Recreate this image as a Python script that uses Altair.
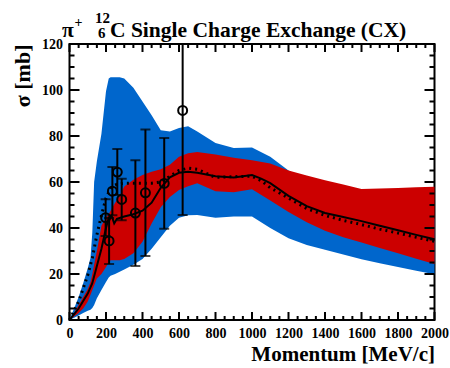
import altair as alt
import pandas as pd

# ---------------- data ----------------
band_p = [0, 25, 50, 75, 100, 115, 125, 135, 150, 175, 200, 215, 225, 250, 275,
          300, 350, 400, 450, 500, 550, 600, 650, 700, 800, 900, 1000, 1100, 1200,
          1300, 1400, 1500, 1600, 1700, 1800, 1900, 2000]
blue_hi = [0, 5, 10, 16, 22.5, 27, 38, 60, 69, 81, 99.5, 105, 105.5, 105.5, 105.5,
           105, 101, 95, 89, 82.5, 82, 83.5, 84.2, 82, 77, 74.8, 75, 71, 65,
           61, 58.5, 56, 54, 51.5, 49, 46.5, 44]
blue_lo = [0, 1, 2, 3, 4, 4.5, 5.2, 6.5, 9.5, 13, 16.5, 18.5, 19.2, 20, 21,
           22, 24, 26.5, 31, 36, 41, 44.5, 45.5, 45.7, 44.5, 45, 45, 40, 35.5,
           32.6, 30.5, 28.5, 26.4, 24.7, 23, 21.4, 19.9]
red_hi = [0, 3, 6.5, 10, 13.5, 16.5, 20, 24, 30, 41, 44.5, 46, 47.5, 51, 54,
          58, 61, 63, 64.5, 65.5, 67.5, 71, 72.5, 73, 72, 70.5, 69.5, 68, 65,
          62.8, 60.8, 58.9, 57, 57.2, 57.4, 57.7, 57.9]
red_lo = [0, 1.5, 3, 5, 8, 11, 13, 15, 18, 20, 23, 25, 26, 26, 26,
          26.5, 29, 34, 42, 49, 53.5, 56.5, 58.2, 59.5, 56, 55.5, 56.8, 52, 47,
          42.5, 38.8, 36, 33.7, 31.3, 29, 26.6, 24.3]

line_p = [0, 50, 100, 125, 150, 175, 200, 215, 230, 245, 260, 300, 350, 400, 450,
          500, 550, 600, 650, 700, 800, 900, 1000, 1050, 1100, 1200, 1300, 1400,
          1500, 1600, 1700, 1800, 1900, 2000]
solid = [0, 5, 11.5, 16, 23.5, 31, 40, 44.5, 45.5, 42, 44, 45, 46, 47.5, 51,
         57.5, 62, 64, 64.5, 64, 62.5, 62, 63, 61.5, 59.5, 54, 49.5, 46.5,
         44.8, 43, 41, 39, 37, 35.1]
dotted = [0, 8, 19.5, 27, 37, 45.5, 53, 55.5, 57.5, 58.5, 59, 59.5, 59.5, 59.5, 59.5,
          60, 62.5, 65, 66, 65.5, 62, 62.3, 62.5, 60.6, 57.5, 53, 48.5, 45.5,
          43.3, 41.5, 39.5, 37.8, 36, 34.2]

data_p = [198, 217, 235, 262, 286, 361, 416, 519, 620]
data_s = [44.5, 34.4, 56.0, 64.3, 52.4, 46.5, 55.3, 59.4, 91.1]
data_e = [8, 10, 10.5, 10, 9, 23, 27.5, 19.7, 45.5]

x_major = list(range(0, 2001, 200))
x_minor = [v for v in range(0, 2001, 50) if v % 200]
y_major = list(range(0, 121, 20))
y_minor = [v for v in range(0, 121, 5) if v % 20]

title_pi = "π"
title_plus = "+"
title_A = "12"
title_Z = "6"
title_main = "C Single Charge Exchange (CX)"

# ---------------- tables ----------------
bands = pd.DataFrame({"p": band_p, "blue_lo": blue_lo, "blue_hi": blue_hi,
                      "red_lo": red_lo, "red_hi": red_hi})
lines = pd.DataFrame({"p": line_p, "solid": solid, "dotted": dotted})
pts = pd.DataFrame({"p": data_p, "s": data_s, "e": data_e})
pts["lo"] = pts["s"] - pts["e"]
pts["hi"] = pts["s"] + pts["e"]

W, H = 365, 276
FONT = "Liberation Serif"
BLUE = "#0066cc"
RED = "#cc0000"

xs = alt.Scale(domain=[0, 2000], nice=False, zero=False)
ys = alt.Scale(domain=[0, 120], nice=False, zero=False)
xaxis = alt.Axis(values=x_major, format="d", ticks=False, domain=False, grid=False,
                 labelFont=FONT, labelFontWeight="bold", labelFontSize=14,
                 labelColor="black", labelPadding=6, labelOverlap=False,
                 labelFlush=False,
                 title="Momentum [MeV/c]", titleFont=FONT, titleFontWeight="bold",
                 titleFontSize=21, titleColor="black", titleX=W, titleY=40,
                 titleAlign="right", titleBaseline="alphabetic")
yaxis = alt.Axis(values=y_major, format="d", ticks=False, domain=False, grid=False,
                 labelFont=FONT, labelFontWeight="bold", labelFontSize=14,
                 labelColor="black", labelPadding=7, labelOverlap=False,
                 labelFlush=False,
                 title="σ [mb]", titleFont=FONT, titleFontWeight="bold",
                 titleFontSize=22, titleColor="black", titleX=-47, titleY=0,
                 titleAngle=-90, titleAlign="right", titleBaseline="middle")


def X(f="p"):
    return alt.X(f + ":Q", scale=xs, axis=xaxis)


def Y(f):
    return alt.Y(f + ":Q", scale=ys, axis=yaxis)


blue = alt.Chart(bands).mark_area(color=BLUE, opacity=1).encode(
    x=X(), y=Y("blue_lo"), y2=alt.Y2("blue_hi"))
red = alt.Chart(bands).mark_area(color=RED, opacity=1).encode(
    x=X(), y=Y("red_lo"), y2=alt.Y2("red_hi"))
solid_l = alt.Chart(lines).mark_line(color="black", strokeWidth=2).encode(
    x=X(), y=Y("solid"))
dotted_l = alt.Chart(lines).mark_line(color="black", strokeWidth=3,
                                      strokeDash=[2, 4]).encode(
    x=X(), y=Y("dotted"))
ebar = alt.Chart(pts).mark_rule(color="black", strokeWidth=2, clip=True).encode(
    x=X(), y=Y("lo"), y2=alt.Y2("hi"))
cap_lo = alt.Chart(pts).mark_tick(color="black", orient="horizontal", size=10,
                                  thickness=2, clip=True).encode(x=X(), y=Y("lo"))
cap_hi = alt.Chart(pts).mark_tick(color="black", orient="horizontal", size=10,
                                  thickness=2, clip=True).encode(x=X(), y=Y("hi"))
circ = alt.Chart(pts).mark_point(shape="circle", filled=False, color="black",
                                 size=80, strokeWidth=2, opacity=1).encode(
    x=X(), y=Y("s"))

xmaj = pd.DataFrame({"p": x_major})
xmin = pd.DataFrame({"p": x_minor})
ymaj = pd.DataFrame({"v": y_major})
ymin = pd.DataFrame({"v": y_minor})


def xticks(df, ln):
    b = alt.Chart(df).mark_rule(color="black", strokeWidth=2).encode(
        x=X(), y=alt.value(H), y2=alt.value(H - ln))
    t = alt.Chart(df).mark_rule(color="black", strokeWidth=2).encode(
        x=X(), y=alt.value(0), y2=alt.value(ln))
    return [b, t]


def yticks(df, ln):
    l = alt.Chart(df).mark_rule(color="black", strokeWidth=2).encode(
        y=Y("v"), x=alt.value(0), x2=alt.value(ln))
    r = alt.Chart(df).mark_rule(color="black", strokeWidth=2).encode(
        y=Y("v"), x=alt.value(W - ln), x2=alt.value(W))
    return [l, r]


def txt(s, x, y, size):
    return alt.Chart(pd.DataFrame({"t": [s]})).mark_text(
        font=FONT, fontWeight="bold", fontSize=size, color="black",
        align="left", baseline="alphabetic").encode(
        text="t:N", x=alt.value(x), y=alt.value(y))


titles = [txt(title_pi, -7.5, -7.5, 21.5), txt(title_plus, 5, -17, 14),
          txt(title_A, 25.5, -21, 15), txt(title_Z, 28.5, -6, 15),
          txt(title_main, 40.5, -7.5, 21.5)]

chart = alt.layer(
    blue, red, solid_l, dotted_l, ebar, cap_lo, cap_hi, circ,
    *xticks(xmaj, 8), *xticks(xmin, 4), *yticks(ymaj, 10), *yticks(ymin, 5),
    *titles
).properties(
    width=W, height=H,
    autosize=alt.AutoSizeParams(type="none"),
    padding={"left": 69.5, "top": 44, "right": 15.5, "bottom": 48},
    background="white",
).configure_view(stroke="black", strokeWidth=2)

chart.save("out.html", embed_options={"renderer": "svg", "actions": False})
